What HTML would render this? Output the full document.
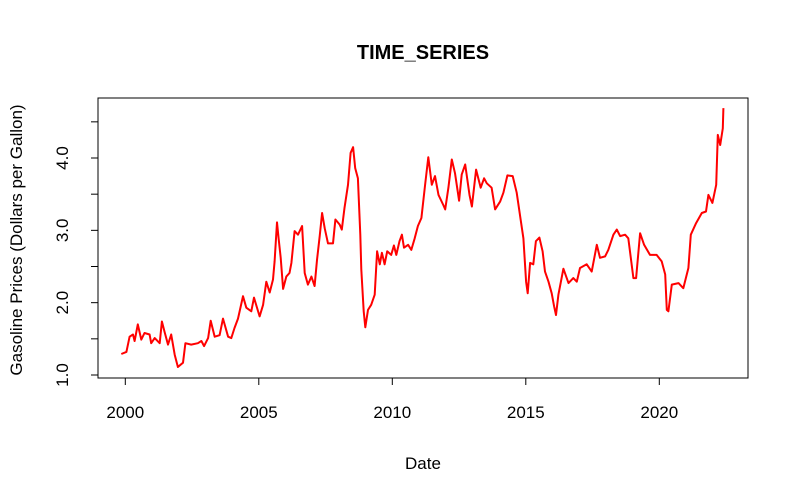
<!DOCTYPE html>
<html><head><meta charset="utf-8"><style>body{margin:0;background:#fff}svg{display:block;font-family:"Liberation Sans",Arial,sans-serif}</style></head>
<body>
<svg id="chart" width="798" height="501" viewBox="0 0 798 501">
<rect x="0" y="0" width="798" height="501" fill="#fff"/>
<text x="423" y="59" text-anchor="middle" font-size="20" font-weight="bold">TIME_SERIES</text>
<text x="423" y="469" text-anchor="middle" font-size="17">Date</text>
<text transform="translate(22,240) rotate(-90)" text-anchor="middle" font-size="17">Gasoline Prices  (Dollars per Gallon)</text>
<rect x="98" y="98" width="650" height="280" fill="none" stroke="#000" stroke-width="1"/>
<g id="xaxis"></g>
<g id="yaxis"></g>
<path id="line" fill="none" stroke="#ff0000" stroke-width="2" stroke-linejoin="round"/>
</svg>
<script>
const dates=[1999.85,2000.04,2000.16,2000.29,2000.35,2000.47,2000.60,2000.72,2000.91,2000.97,2001.10,2001.29,2001.37,2001.47,2001.60,2001.72,2001.85,2001.97,2002.16,2002.25,2002.47,2002.72,2002.85,2002.95,2003.10,2003.20,2003.35,2003.53,2003.66,2003.85,2003.97,2004.09,2004.22,2004.41,2004.53,2004.72,2004.82,2005.03,2005.16,2005.28,2005.41,2005.53,2005.59,2005.68,2005.74,2005.82,2005.91,2006.03,2006.15,2006.22,2006.34,2006.47,2006.62,2006.72,2006.84,2006.97,2007.09,2007.18,2007.28,2007.37,2007.47,2007.59,2007.78,2007.87,2008.03,2008.11,2008.21,2008.34,2008.44,2008.53,2008.61,2008.71,2008.80,2008.84,2008.93,2008.99,2009.09,2009.21,2009.34,2009.43,2009.53,2009.61,2009.71,2009.81,2009.96,2010.06,2010.15,2010.27,2010.36,2010.44,2010.59,2010.71,2010.84,2010.96,2011.09,2011.23,2011.35,2011.48,2011.60,2011.73,2011.91,2011.98,2012.10,2012.23,2012.35,2012.50,2012.60,2012.73,2012.89,2012.98,2013.14,2013.31,2013.44,2013.54,2013.72,2013.85,2014.04,2014.16,2014.31,2014.51,2014.66,2014.79,2014.91,2015.01,2015.07,2015.16,2015.28,2015.38,2015.51,2015.63,2015.72,2015.85,2015.97,2016.06,2016.13,2016.22,2016.41,2016.60,2016.78,2016.91,2017.03,2017.28,2017.47,2017.66,2017.78,2017.97,2018.09,2018.28,2018.41,2018.53,2018.72,2018.84,2019.03,2019.13,2019.28,2019.43,2019.65,2019.90,2020.09,2020.22,2020.28,2020.34,2020.47,2020.72,2020.90,2021.09,2021.18,2021.38,2021.59,2021.75,2021.84,2021.99,2022.13,2022.19,2022.28,2022.38,2022.40];
const prices=[1.29,1.32,1.53,1.56,1.47,1.70,1.49,1.58,1.56,1.44,1.51,1.44,1.74,1.60,1.42,1.56,1.28,1.11,1.17,1.44,1.42,1.44,1.47,1.40,1.51,1.75,1.53,1.55,1.78,1.53,1.51,1.65,1.78,2.09,1.93,1.88,2.07,1.81,1.97,2.29,2.14,2.32,2.57,3.11,2.89,2.62,2.19,2.36,2.41,2.55,2.99,2.94,3.06,2.41,2.25,2.36,2.23,2.59,2.92,3.24,3.03,2.82,2.82,3.15,3.08,3.01,3.31,3.63,4.07,4.15,3.86,3.72,2.94,2.46,1.88,1.66,1.90,1.97,2.11,2.71,2.53,2.69,2.53,2.71,2.66,2.79,2.66,2.85,2.94,2.76,2.80,2.73,2.89,3.06,3.17,3.63,4.01,3.63,3.75,3.49,3.35,3.29,3.59,3.98,3.79,3.41,3.77,3.91,3.49,3.33,3.84,3.59,3.72,3.65,3.59,3.29,3.40,3.52,3.76,3.75,3.52,3.19,2.89,2.29,2.13,2.55,2.53,2.85,2.90,2.71,2.43,2.29,2.13,1.95,1.83,2.11,2.47,2.27,2.34,2.29,2.48,2.53,2.43,2.80,2.62,2.64,2.73,2.94,3.01,2.92,2.94,2.89,2.34,2.34,2.96,2.80,2.66,2.66,2.57,2.39,1.90,1.88,2.25,2.27,2.20,2.48,2.94,3.10,3.24,3.26,3.49,3.38,3.63,4.32,4.18,4.41,4.69];
const xTicks=[2000,2005,2010,2015,2020];
const yTicks=[1.0,1.5,2.0,2.5,3.0,3.5,4.0,4.5];
const yLabels=["1.0","","2.0","","3.0","","4.0",""];
const NS="http://www.w3.org/2000/svg";
function sx(d){return 125.3+(d-2000)*26.7;}
function sy(p){return 375-(p-1)*72.33;}
const xa=document.getElementById('xaxis'),ya=document.getElementById('yaxis');
xTicks.forEach(t=>{
 const l=document.createElementNS(NS,'line');
 
 
 l.setAttribute('x1',sx(t));l.setAttribute('x2',sx(t));l.setAttribute('y1',378);l.setAttribute('y2',385);l.setAttribute('stroke','#000');
 xa.appendChild(l);
 const tx=document.createElementNS(NS,'text');
 
 
 tx.setAttribute('x',sx(t));tx.setAttribute('y',418);tx.setAttribute('text-anchor','middle');tx.setAttribute('font-size','17');
 tx.textContent=t;xa.appendChild(tx);
});
yTicks.forEach((t,i)=>{
 const l=document.createElementNS(NS,'line');
 
 
 l.setAttribute('x1',91);l.setAttribute('x2',98);l.setAttribute('y1',sy(t));l.setAttribute('y2',sy(t));l.setAttribute('stroke','#000');
 ya.appendChild(l);
 if(yLabels[i]){
 const tx=document.createElementNS(NS,'text');
 
 
 tx.setAttribute('transform','translate(68,'+sy(t)+') rotate(-90)');tx.setAttribute('text-anchor','middle');tx.setAttribute('font-size','17');
 tx.textContent=yLabels[i];ya.appendChild(tx);}
});
let d='';
dates.forEach((dt,i)=>{d+=(i?'L':'M')+sx(dt).toFixed(1)+','+sy(prices[i]).toFixed(1);});
document.getElementById('line').setAttribute('d',d);
</script>
</body></html>
